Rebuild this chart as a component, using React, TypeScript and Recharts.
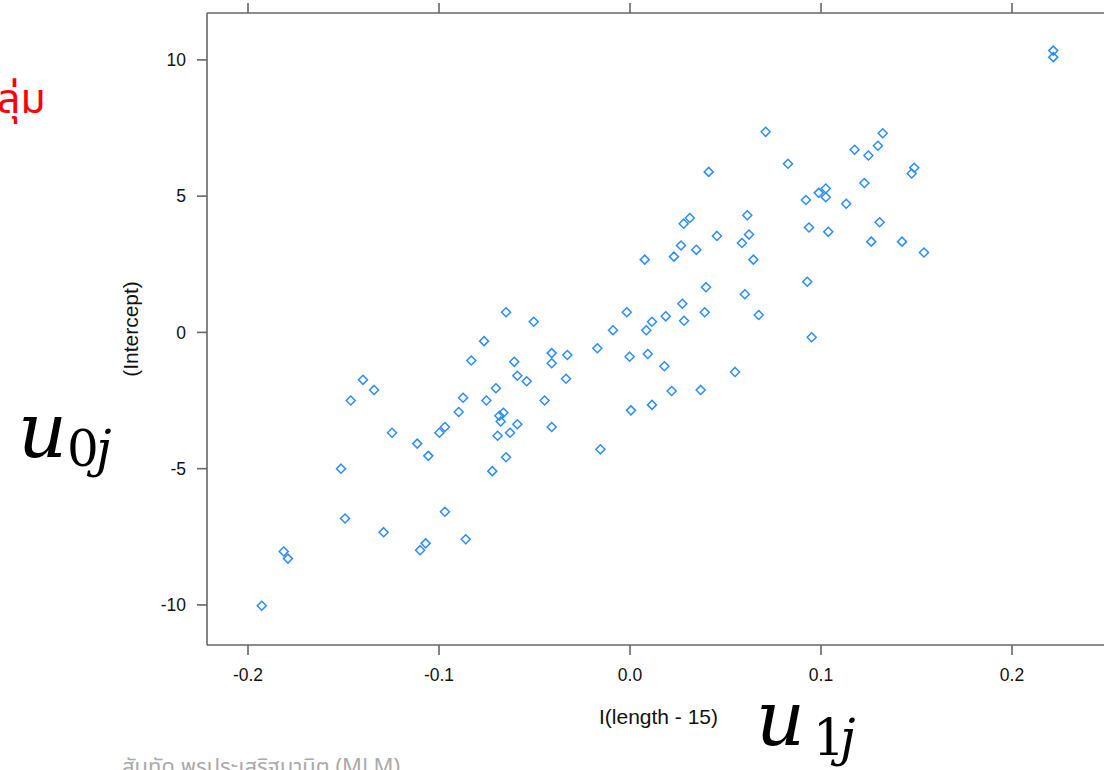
import { Label, Scatter, ScatterChart, XAxis, YAxis } from "recharts";

// random-effect estimates per group: u1j (slope, x) and u0j (intercept, y)
const slopeU1 = [
  -0.0764, -0.0831, -0.041, -0.0328, -0.0606, -0.041, -0.1398, -0.134, -0.1462, -0.059,
  -0.0541, -0.0335, -0.0702, -0.0874, -0.0752, -0.0447, -0.0897, -0.0684, -0.0663, -0.0677,
  -0.059, -0.041, -0.1246, -0.0998, -0.0969, -0.0693, -0.0628, -0.1114, -0.1056, -0.0649,
  -0.0721, -0.1513, -0.1492, -0.129, -0.0969, -0.086, -0.107, -0.1099, -0.1813, -0.1791,
  -0.1928,
  0.071, 0.1323, 0.1176, 0.1298, 0.1248, 0.0827, 0.0412, 0.1488, 0.1475, 0.1227,
  0.1025, 0.0988, 0.1025, 0.0921, 0.1132, 0.0614, 0.0313, 0.0281, 0.0937, 0.1038,
  0.1307, 0.1263, 0.1424, 0.1539, 0.0455, 0.0623, 0.0586, 0.0267, 0.0347, 0.023,
  0.0077, 0.0646, 0.0928, 0.0398, 0.0601, 0.0274, -0.0649, -0.0504, -0.0017, 0.0391,
  0.0187, 0.0115, -0.0089, 0.0085, 0.0283, 0.0674, 0.0951, -0.0171, -0.0002, 0.0093,
  0.018, 0.055, 0.0218, 0.037, 0.0115, 0.0005, -0.0155, 0.2216, 0.2216,
];

const interceptU0 = [
  -0.32, -1.03, -0.76, -0.83, -1.08, -1.13, -1.74, -2.11, -2.5, -1.59,
  -1.79, -1.7, -2.05, -2.4, -2.5, -2.5, -2.92, -3.06, -2.95, -3.27,
  -3.37, -3.47, -3.68, -3.68, -3.47, -3.79, -3.68, -4.08, -4.53, -4.58,
  -5.09, -5.0, -6.83, -7.33, -6.58, -7.59, -7.74, -7.99, -8.04, -8.3,
  -10.03,
  7.36, 7.31, 6.7, 6.85, 6.49, 6.19, 5.89, 6.04, 5.83, 5.48,
  5.28, 5.12, 4.96, 4.86, 4.72, 4.3, 4.2, 3.99, 3.85, 3.69,
  4.04, 3.33, 3.33, 2.93, 3.54, 3.59, 3.28, 3.19, 3.03, 2.78,
  2.67, 2.67, 1.86, 1.66, 1.4, 1.05, 0.74, 0.39, 0.74, 0.74,
  0.59, 0.39, 0.08, 0.08, 0.43, 0.64, -0.18, -0.58, -0.89, -0.79,
  -1.24, -1.45, -2.15, -2.11, -2.66, -2.86, -4.29, 10.34, 10.1,
];

const xTicks = [-0.2, -0.1, 0.0, 0.1, 0.2];
const yTicks = [-10, -5, 0, 5, 10];

const points = slopeU1.map((x, i) => ({ x, y: interceptU0[i] }));

const axisColor = "#666";
const sans = "Liberation Sans, Arial, sans-serif";
const tickFont = { fontSize: 17.5, fill: "#111", fontFamily: sans };
const titleStyle = { fontSize: 21, fill: "#111", fontFamily: sans };

function Diamond(props: any) {
  const { cx, cy } = props;
  const r = 4.5;
  return (
    <path
      d={`M${cx},${cy - r}L${cx + r},${cy}L${cx},${cy + r}L${cx - r},${cy}Z`}
      fill="none"
      stroke="#2b8cff"
      strokeWidth={1.5}
    />
  );
}

export default function App() {
  return (
    <div style={{ position: "absolute", left: 0, top: 0, width: 1104, height: 770, overflow: "hidden", background: "#fff" }}>
      <ScatterChart width={1130} height={770} margin={{ top: 0, right: 20, bottom: 45, left: 117 }}>
        <XAxis
          xAxisId="top"
          orientation="top"
          type="number"
          dataKey="x"
          domain={[-0.22147, 0.2513]}
          allowDataOverflow
          ticks={xTicks}
          height={13}
          tickSize={10}
          tick={() => <g />}
          stroke={axisColor}
          strokeWidth={1.6}
        />
        <XAxis
          xAxisId="bottom"
          type="number"
          dataKey="x"
          domain={[-0.22147, 0.2513]}
          allowDataOverflow
          ticks={xTicks}
          tickFormatter={(v: number) => v.toFixed(1)}
          height={80}
          tickSize={10}
          tickMargin={14}
          tick={tickFont}
          stroke={axisColor}
          strokeWidth={1.6}
        >
          <Label value="I(length - 15)" position="insideBottom" offset={1} style={titleStyle} />
        </XAxis>
        <YAxis
          yAxisId="left"
          type="number"
          dataKey="y"
          domain={[-11.47, 11.72]}
          allowDataOverflow
          ticks={yTicks}
          width={90}
          tickSize={10}
          tickMargin={11}
          tick={tickFont}
          stroke={axisColor}
          strokeWidth={1.6}
          label={{
            content: ({ viewBox }: any) => {
              const x = viewBox.x + 13;
              const y = viewBox.y + viewBox.height / 2;
              return (
                <text
                  x={x}
                  y={y}
                  transform={`rotate(-90, ${x}, ${y})`}
                  textAnchor="middle"
                  dominantBaseline="central"
                  style={titleStyle}
                >
                  (Intercept)
                </text>
              );
            },
          }}
        />
        <Scatter
          data={points}
          xAxisId="bottom"
          yAxisId="left"
          shape={Diamond}
          isAnimationActive={false}
        />
      </ScatterChart>
      <svg width={1104} height={770} style={{ position: "absolute", left: 0, top: 0, pointerEvents: "none" }}>
        <text x={-3} y={113} fill="#ff0000" style={{ fontSize: 41, fontFamily: "Noto Sans Thai, Noto Sans, sans-serif" }}>
          ลุ่ม
        </text>
        <g style={{ fontFamily: "DejaVu Serif, serif", fontStyle: "italic" }} fill="#000">
          <text x={18} y={457} style={{ fontSize: 76 }}>u</text>
          <text x={67} y={466} style={{ fontSize: 50, fontStyle: "normal" }}>0</text>
          <text x={96} y={466} style={{ fontSize: 50 }}>j</text>
          <text x={756} y={745} style={{ fontSize: 76 }}>u</text>
          <text x={813} y={755} style={{ fontSize: 50, fontStyle: "normal" }}>1</text>
          <text x={840} y={755} style={{ fontSize: 50 }}>j</text>
        </g>
        <text x={122} y={774} fill="#aaa" style={{ fontSize: 22, fontFamily: "Noto Sans Thai, Noto Sans, sans-serif" }}>
          สันทัด พรประเสริฐมานิต (MLM)
        </text>
      </svg>
    </div>
  );
}
